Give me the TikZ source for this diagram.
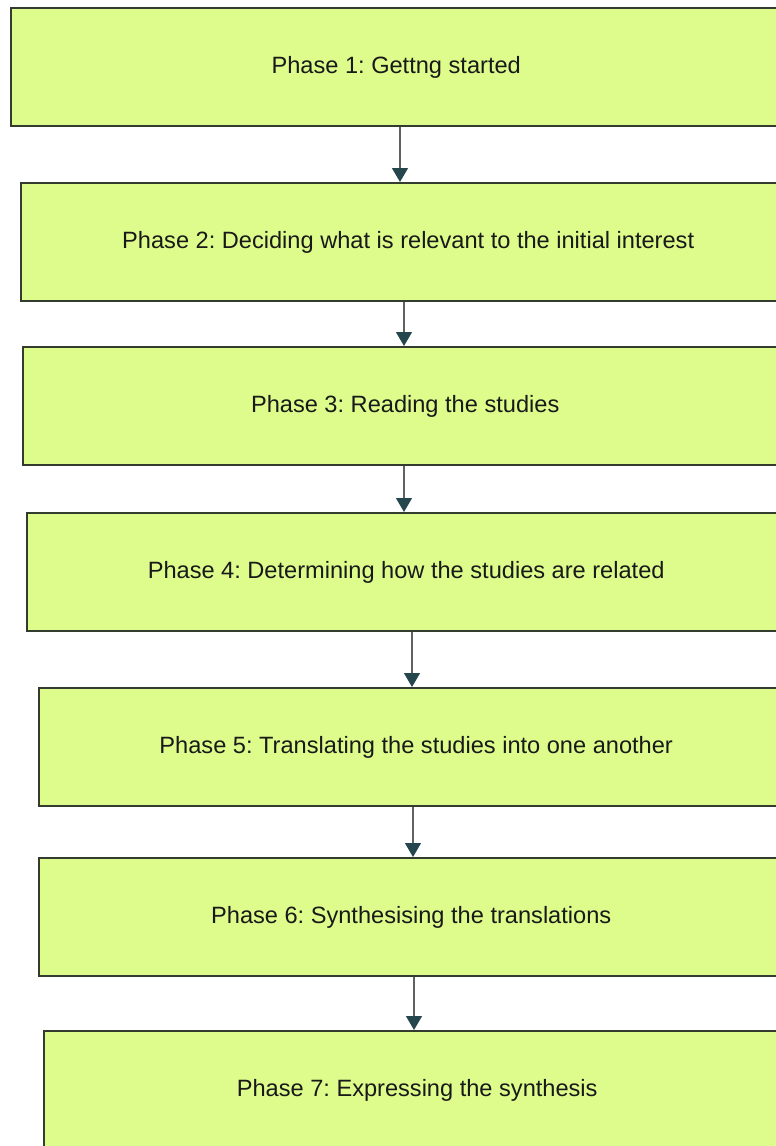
\documentclass[tikz,border=0pt]{standalone}
\usepackage{fontspec}
\setmainfont{Liberation Sans}
\usetikzlibrary{arrows.meta}
\definecolor{phasefill}{RGB}{221,252,139}
\definecolor{phaseline}{RGB}{52,60,48}
\definecolor{tipcol}{RGB}{38,70,78}
\frenchspacing
\tikzset{
    phase diagram/.style = {x=1pt, y=-1pt},
    phase/.style         = {draw=phaseline, line width=2.4pt, fill=phasefill,
                            anchor=north west, minimum height=118pt,
                            inner sep=0pt, text=black!90,
                            font=\fontsize{23.6}{28}\selectfont},
    flow/.style          = {draw=black!62, line width=1.3pt,
                            -{Triangle[width=16pt, length=14pt, color=tipcol]}}
}
\begin{document}
\begin{tikzpicture}[phase diagram]

% Page frame
\path[clip] (0,0) rectangle (776,1146);

% Phase boxes, each set a little further right
\node[phase, minimum width=770pt] (p1) at (10,7)    {Phase 1: Gettng started};
\node[phase, minimum width=774pt] (p2) at (20,182)  {Phase 2: Deciding what is relevant to the initial interest};
\node[phase, minimum width=764pt] (p3) at (22,346)  {Phase 3: Reading the studies};
\node[phase, minimum width=758pt] (p4) at (26,512)  {Phase 4: Determining how the studies are related};
\node[phase, minimum width=754pt] (p5) at (38,687)  {Phase 5: Translating the studies into one another};
\node[phase, minimum width=744pt] (p6) at (38,857)  {Phase 6: Synthesising the translations};
\node[phase, minimum width=746pt] (p7) at (43,1030) {Phase 7: Expressing the synthesis};

% Arrows between consecutive phases
\foreach \a/\b/\x [count=\i] in {p1/p2/400, p2/p3/404, p3/p4/404,
                                 p4/p5/412, p5/p6/413, p6/p7/414} {
    \coordinate (a\i) at (\x,0);
    \draw[flow] (\a.south -| a\i) -- (\b.north -| a\i);
}

\end{tikzpicture}
\end{document}
